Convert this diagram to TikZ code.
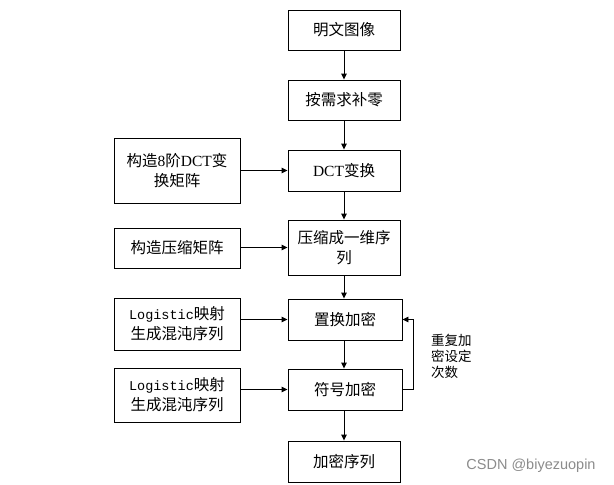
\documentclass[tikz,border=0pt]{standalone}
\usepackage{fontspec}
\setmainfont{Noto Sans CJK SC}
\newfontfamily\mono{Liberation Mono}
\newfontfamily\lserif{Liberation Serif}
\usetikzlibrary{arrows.meta}
\begin{document}
\begin{tikzpicture}[x=1pt,y=-1pt,
  box/.style={draw,line width=0.9pt,minimum width=112pt,minimum height=40pt,inner sep=0pt,align=center,font=\fontsize{15.5}{20}\selectfont},
  lbox/.style={draw,line width=0.9pt,minimum width=126pt,inner sep=0pt,align=center,font=\fontsize{15.5}{20}\selectfont},
  arr/.style={line width=0.9pt,-{Triangle[length=6pt,width=5.5pt]}},
  lbl/.style={align=left,inner sep=0pt,font=\fontsize{13.5}{16}\selectfont}]
\useasboundingbox[fill=white] (0,0) rectangle (614,485);
% main column
\node[box] (m1) at (344,30) {明文图像};
\node[box] (m2) at (344,100) {按需求补零};
\node[box,minimum height=41pt] (m3) at (344,170.5) {{\lserif DCT}变换};
\node[box,minimum height=55pt] (m4) at (344,247.5) {压缩成一维序\\列};
\node[box,minimum width=114pt,minimum height=41pt] (m5) at (345,319.5) {置换加密};
\node[box,minimum width=114pt,minimum height=41pt] (m6) at (345,389.5) {符号加密};
\node[box,minimum height=41pt] (m7) at (344,461.5) {加密序列};
% left column
\node[lbox,minimum height=65pt] (l1) at (177,170.5) {构造{\lserif 8}阶{\lserif DCT}变\\换矩阵};
\node[lbox,minimum height=40pt] (l2) at (177,248) {构造压缩矩阵};
\node[lbox,minimum height=52pt] (l3) at (177,324) {{\mono\fontsize{13.5}{20}\selectfont Logistic}映射\\生成混沌序列};
\node[lbox,minimum height=54pt] (l4) at (177,395) {{\mono\fontsize{13.5}{20}\selectfont Logistic}映射\\生成混沌序列};
% vertical arrows
\draw[arr] (m1.south) -- (m2.north);
\draw[arr] (m2.south) -- (m3.north);
\draw[arr] (m3.south) -- (m4.north);
\draw[arr] (m4.south) -- (m4.south |- m5.north);
\draw[arr] (m4.south |- m5.south) -- (m4.south |- m6.north);
\draw[arr] (m4.south |- m6.south) -- (m7.north);
% side arrows
\draw[arr] (l1.east |- m3.west) -- (m3.west);
\draw[arr] (l2.east |- m4.west) -- (m4.west);
\draw[arr] (l3.east |- m5.west) -- (m5.west);
\draw[arr] (l4.east |- m6.west) -- (m6.west);
% loop
\coordinate (lp) at (413,389.5);
\draw[arr] (m6.east) -- (lp) |- (m5.east);
\node[lbl,anchor=north west] (t) at (431,334) {重复加\\密设定\\次数};
% watermark
\node[inner sep=0pt,text=black!45,font=\fontsize{14.5}{16}\selectfont\fontspec{Liberation Sans}] (wm) at (531,466) {CSDN @biyezuopin};
\end{tikzpicture}
\end{document}
